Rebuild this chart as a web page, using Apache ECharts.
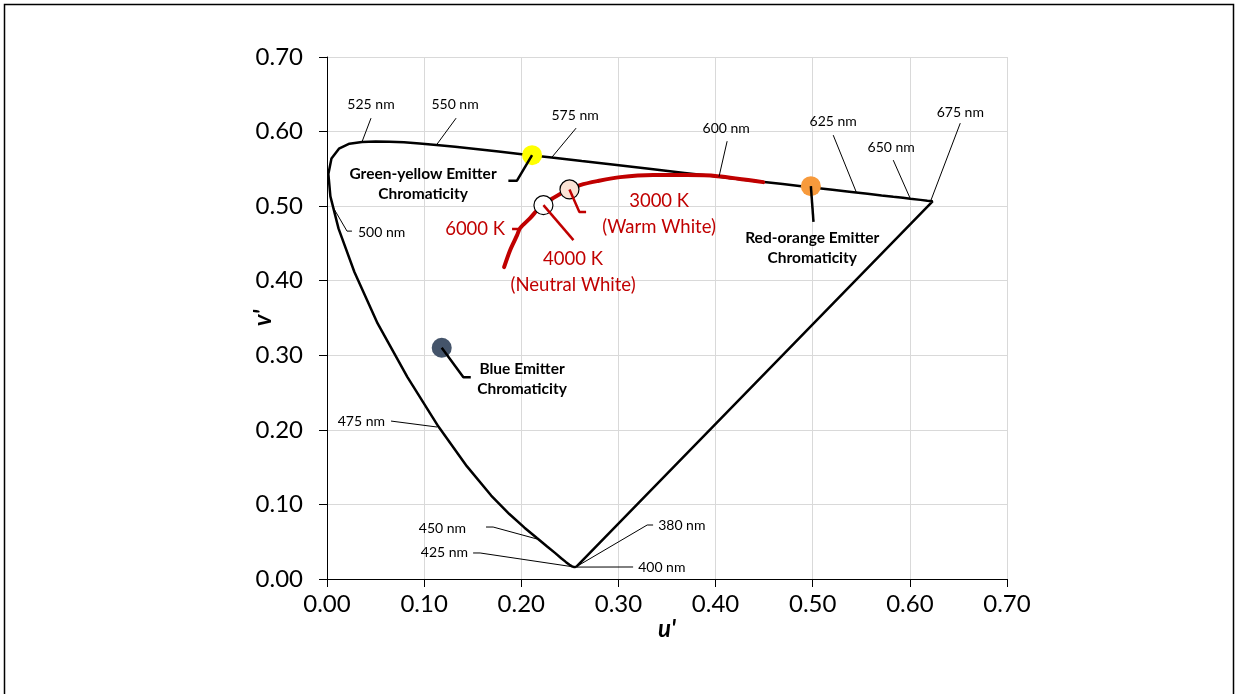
<!DOCTYPE html>
<html><head><meta charset="utf-8">
<script src="https://cdn.jsdelivr.net/npm/echarts@6/dist/echarts.min.js"></script>
<style>html,body{margin:0;padding:0;background:#fff}#c{width:1238px;height:694px}</style>
</head><body><div id="c"></div>
<script>
// Axis ticks
const tickValues = [0, 0.1, 0.2, 0.3, 0.4, 0.5, 0.6, 0.7];

// Spectral locus (CIE 1976 u'v'), wavelength in nm
const locusNm = [380,400,410,420,425,430,435,440,445,450,455,460,465,470,475,480,485,490,495,500,505,510,515,520,525,530,535,540,545,550,555,560,565,570,575,580,585,590,595,600,605,610,615,620,625,630,635,640,645,650,660,670,680];
const locusU = [0.2568,0.2558,0.2545,0.2522,0.2496,0.2461,0.2411,0.2347,0.2266,0.2161,0.2033,0.1877,0.1690,0.1441,0.1147,0.0828,0.0521,0.0282,0.0119,0.0035,0.0014,0.0046,0.0123,0.0231,0.0360,0.0501,0.0643,0.0792,0.0953,0.1127,0.1319,0.1531,0.1766,0.2026,0.2312,0.2623,0.2960,0.3315,0.3681,0.4035,0.4379,0.4692,0.4968,0.5203,0.5399,0.5565,0.5709,0.5830,0.5929,0.6005,0.6109,0.6180,0.6234];
const locusV = [0.0165,0.0160,0.0159,0.0169,0.0191,0.0226,0.0279,0.0350,0.0437,0.0550,0.0688,0.0871,0.1119,0.1510,0.2044,0.2708,0.3427,0.4117,0.4698,0.5131,0.5432,0.5638,0.5770,0.5837,0.5861,0.5868,0.5865,0.5856,0.5841,0.5821,0.5796,0.5766,0.5732,0.5694,0.5651,0.5604,0.5554,0.5501,0.5446,0.5393,0.5342,0.5296,0.5254,0.5219,0.5190,0.5165,0.5143,0.5125,0.5111,0.5099,0.5084,0.5073,0.5065];

// Planckian (white) curve, as drawn
const planckU = [0.1823,0.1885,0.1957,0.1988,0.2091,0.2194,0.2327,0.2472,0.2606,0.2781,0.3018,0.3357,0.3708,0.4017,0.4490];
const planckV = [0.4182,0.4410,0.4611,0.4705,0.4839,0.4987,0.5107,0.5214,0.5282,0.5335,0.5389,0.5416,0.5416,0.5402,0.5322];

// Emitter chromaticities
const emitterNames = ['Green-yellow', 'Red-orange', 'Blue'];
const emitterU = [0.2111, 0.4981, 0.1181];
const emitterV = [0.5684, 0.5268, 0.3101];
const emitterColors = ['#FFFF00', '#F79A3C', '#44546A'];

// White points
const whiteNames = ['4000 K', '3000 K'];
const whiteU = [0.2228, 0.2496];
const whiteV = [0.5013, 0.5224];
const whiteColors = ['#FFFFFF', '#FBE3D5'];

// Wavelength callouts: label, text anchor [u,v], alignment, leader polyline
const waveLabels = [
  ['525 nm', [0.0453, 0.6367], 'c', [[0.0453, 0.6180], [0.0360, 0.5861]]],
  ['550 nm', [0.1318, 0.6367], 'c', [[0.1329, 0.6180], [0.1127, 0.5821]]],
  ['575 nm', [0.2554, 0.6220], 'c', [[0.2564, 0.6046], [0.2312, 0.5651]]],
  ['600 nm', [0.4109, 0.6046], 'c', [[0.4119, 0.5871], [0.4035, 0.5393]]],
  ['625 nm', [0.5211, 0.6139], 'c', [[0.5211, 0.5952], [0.5450, 0.5183]]],
  ['650 nm', [0.5808, 0.5791], 'c', [[0.5829, 0.5617], [0.6005, 0.5099]]],
  ['675 nm', [0.6519, 0.6260], 'c', [[0.6519, 0.6113], [0.6214, 0.5068]]],
  ['500 nm', [0.0319, 0.4651], 'l', [[0.0257, 0.4665], [0.0206, 0.4665], [0.0060, 0.4990]]],
  ['475 nm', [0.0597, 0.2118], 'r', [[0.0659, 0.2118], [0.1133, 0.2038]]],
  ['450 nm', [0.1432, 0.0684], 'r', [[0.1637, 0.0697], [0.1710, 0.0697], [0.2163, 0.0536]]],
  ['425 nm', [0.1452, 0.0349], 'r', [[0.1504, 0.0349], [0.1576, 0.0349], [0.2550, 0.0160]]],
  ['400 nm', [0.3203, 0.0161], 'l', [[0.3151, 0.0161], [0.2557, 0.0160]]],
  ['380 nm', [0.3409, 0.0724], 'l', [[0.3357, 0.0724], [0.3296, 0.0724], [0.2568, 0.0166]]]
];

// Emitter callouts: text, anchor, leader from marker
const emitterLabels = [
  ['Green-yellow Emitter\nChromaticity', [0.0989, 0.5295], [[0.2111, 0.5684], [0.1954, 0.5339], [0.1867, 0.5339]]],
  ['Red-orange Emitter\nChromaticity', [0.4995, 0.4444], [[0.4981, 0.5268], [0.5008, 0.4790]]],
  ['Blue Emitter\nChromaticity', [0.2008, 0.2681], [[0.1181, 0.3101], [0.1404, 0.2704], [0.1480, 0.2704]]]
];

// CCT callouts (red)
const cctLabels = [
  ['6000 K', [0.1833, 0.4692], 'r', [[0.1905, 0.4692], [0.1988, 0.4692]]],
  ['4000 K\n(Neutral White)', [0.2533, 0.4115], 'c', [[0.2228, 0.5013], [0.2537, 0.4544]]],
  ['3000 K\n(Warm White)', [0.3419, 0.4899], 'c', [[0.2496, 0.5224], [0.2598, 0.4920], [0.2667, 0.4920]]]
];

const FONT = 'Lato, "Open Sans", sans-serif';
const RED = '#C00000';

const locusData = locusU.map((u, i) => [u, locusV[i]]);
locusData.push([locusU[0], locusV[0]]);

const series = [];
series.push({ type: 'line', name: 'locus', data: locusData, symbol: 'none', silent: true,
  lineStyle: { color: '#000', width: 2.5 }, z: 3 });
series.push({ type: 'line', name: 'planck', data: planckU.map((u, i) => [u, planckV[i]]), symbol: 'none', silent: true,
  smooth: 0.3, lineStyle: { color: RED, width: 4, cap: 'round' }, z: 4 });

waveLabels.forEach(w => {
  series.push({ type: 'line', data: w[3], symbol: 'none', silent: true, lineStyle: { color: '#000', width: 1 }, z: 5 });
});

series.push({ type: 'scatter', data: emitterU.map((u, i) => ({ value: [u, emitterV[i]], itemStyle: { color: emitterColors[i], opacity: 1 } })),
  symbolSize: 20, z: 6, silent: true, itemStyle: { opacity: 1 } });
series.push({ type: 'scatter', data: whiteU.map((u, i) => ({ value: [u, whiteV[i]], itemStyle: { color: whiteColors[i], borderColor: '#000', borderWidth: 1.2, opacity: 1 } })),
  symbolSize: 19, z: 6, silent: true, itemStyle: { opacity: 1 } });

emitterLabels.forEach(e => {
  series.push({ type: 'line', data: e[2], symbol: 'none', silent: true, lineStyle: { color: '#000', width: 2.5 }, z: 7 });
});
cctLabels.forEach(c => {
  series.push({ type: 'line', data: c[3], symbol: 'none', silent: true, lineStyle: { color: RED, width: 2.5 }, z: 7 });
});

function posOf(a) { return a === 'l' ? 'right' : (a === 'r' ? 'left' : 'inside'); }
function alignOf(a) { return a === 'l' ? 'left' : (a === 'r' ? 'right' : 'center'); }

series.push({ type: 'scatter', symbolSize: 0, silent: true, z: 8, itemStyle: { opacity: 1 },
  data: waveLabels.map(w => ({ value: w[1], name: w[0], label: { position: posOf(w[2]), align: alignOf(w[2]) } })),
  label: { show: true, formatter: p => p.name, distance: 0, color: '#000', opacity: 1, fontFamily: FONT, fontSize: 14 } });
series.push({ type: 'scatter', symbolSize: 0, silent: true, z: 8, itemStyle: { opacity: 1 },
  data: emitterLabels.map(e => ({ value: e[1], name: e[0] })),
  label: { show: true, position: 'inside', formatter: p => p.name, color: '#000', opacity: 1, fontFamily: FONT, fontSize: 15.5, fontWeight: 'bold', lineHeight: 20, align: 'center' } });
series.push({ type: 'scatter', symbolSize: 0, silent: true, z: 8, itemStyle: { opacity: 1 },
  data: cctLabels.map(c => ({ value: c[1], name: c[0], label: { position: posOf(c[2]), align: alignOf(c[2]) } })),
  label: { show: true, formatter: p => p.name, distance: 0, color: RED, opacity: 1, fontFamily: FONT, fontSize: 18.5, lineHeight: 26 } });

const axisCommon = {
  type: 'value', min: 0, max: 0.7, interval: 0.1,
  axisLine: { show: true, onZero: false, lineStyle: { color: '#000', width: 1 } },
  axisTick: { show: true, inside: false, length: 8, lineStyle: { color: '#000' } },
  splitLine: { show: true, lineStyle: { color: '#D9D9D9', width: 1 } },
  axisLabel: { formatter: v => v.toFixed(2), color: '#000', fontFamily: FONT, fontSize: 24 },
  nameTextStyle: { color: '#000', fontFamily: FONT, fontSize: 24, fontWeight: 'bold', fontStyle: 'italic' },
  nameLocation: 'middle',
  nameMoveOverlap: false
};

const chart = echarts.init(document.getElementById('c'), null, { renderer: 'canvas' });
chart.setOption({
  animation: false,
  backgroundColor: '#fff',
  grid: { left: 327, right: 231, top: 57, bottom: 115, containLabel: false },
  xAxis: Object.assign({}, axisCommon, { name: "u'", nameGap: 38, axisLabel: Object.assign({}, axisCommon.axisLabel, { margin: 13 }) }),
  yAxis: Object.assign({}, axisCommon, { name: "v'", nameGap: 52, nameRotate: 90, axisLabel: Object.assign({}, axisCommon.axisLabel, { margin: 24 }) }),
  graphic: [{ type: 'rect', shape: { x: 4.5, y: 4.5, width: 1229, height: 720 }, style: { fill: 'none', stroke: '#000', lineWidth: 1.5 }, silent: true }],
  series: series
});
</script></body></html>
